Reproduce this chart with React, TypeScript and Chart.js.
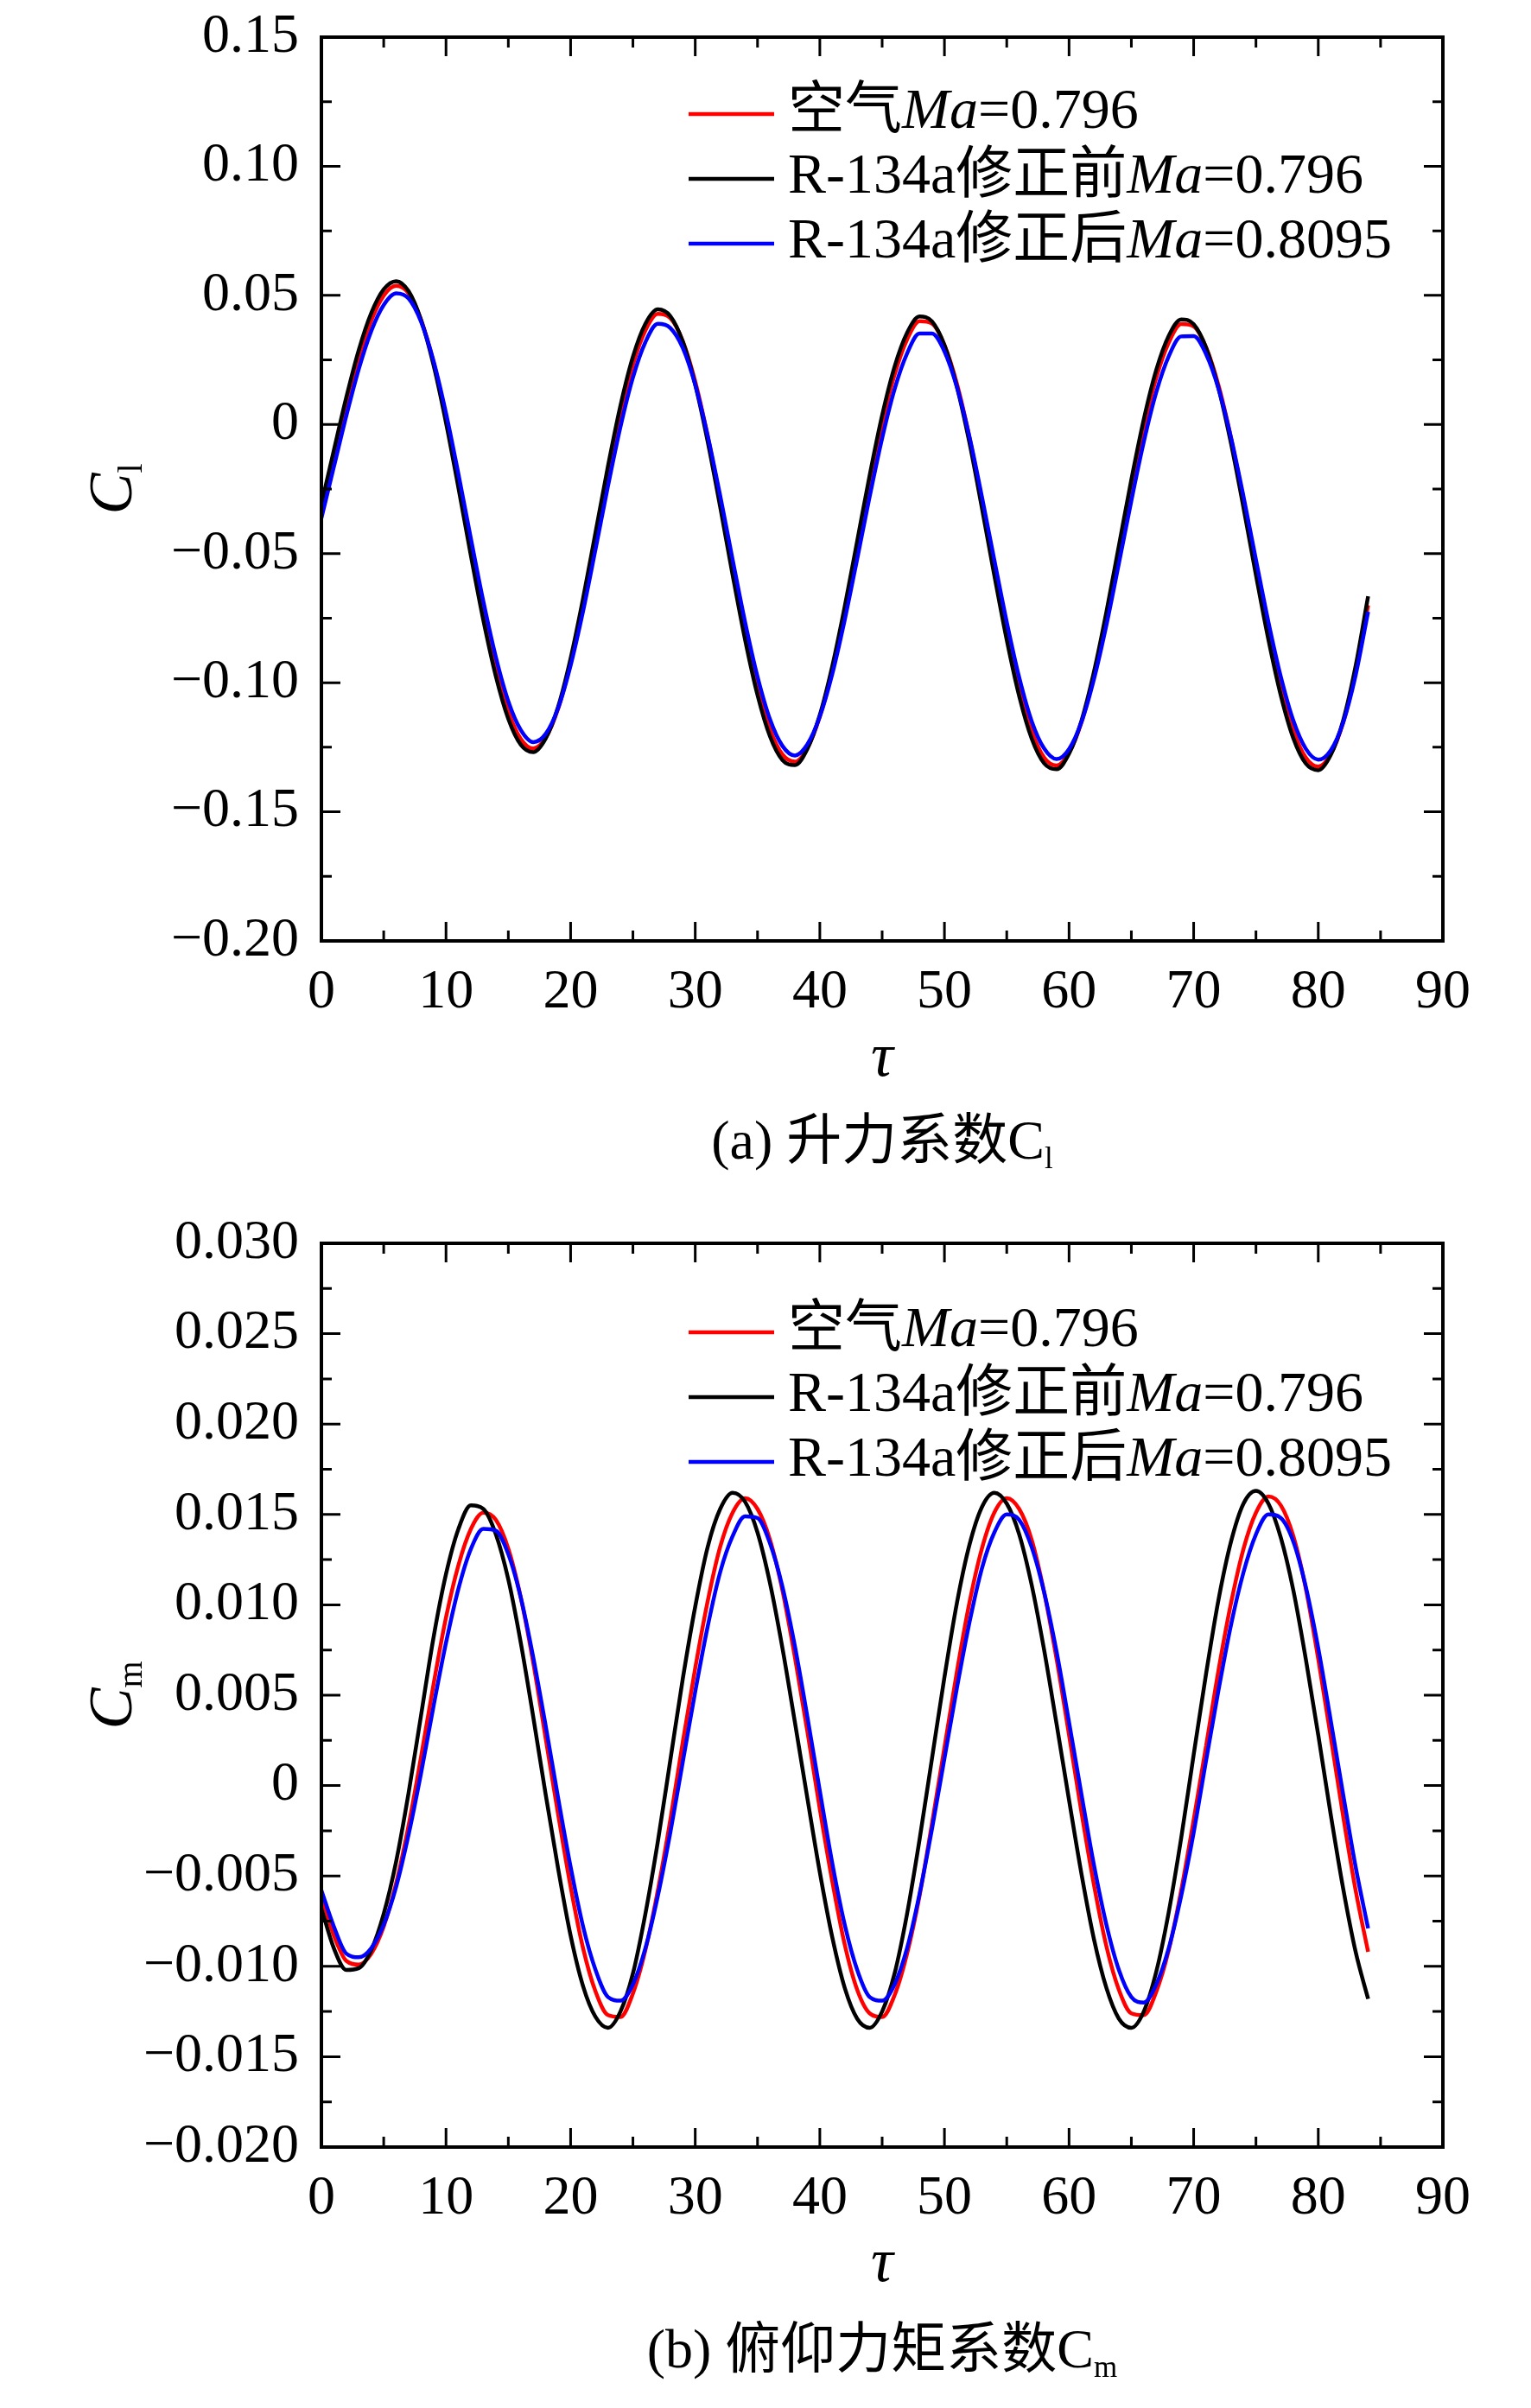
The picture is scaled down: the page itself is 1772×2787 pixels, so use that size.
import { useEffect, useRef } from "react"
import { Chart, registerables } from "chart.js"

Chart.register(...registerables)

const FONT = "'Liberation Serif', 'Times New Roman', 'Noto Sans CJK SC', serif"

// time axis (tau), shared by every series
const tau = [
  0, 1, 2, 3, 4, 5, 6, 7, 8, 9, 10, 11, 12, 13, 14, 15, 16, 17, 18, 19, 20,
  21, 22, 23, 24, 25, 26, 27, 28, 29, 30, 31, 32, 33, 34, 35, 36, 37, 38, 39, 40,
  41, 42, 43, 44, 45, 46, 47, 48, 49, 50, 51, 52, 53, 54, 55, 56, 57, 58, 59, 60,
  61, 62, 63, 64, 65, 66, 67, 68, 69, 70, 71, 72, 73, 74, 75, 76, 77, 78, 79, 80,
  81, 82, 83, 84,
]

// lift coefficient Cl
const clAir = [
  -0.0336, -0.0131, 0.0073, 0.0255, 0.0402, 0.0499, 0.0537, 0.0508, 0.0405, 0.0241, 0.0027,
  -0.0219, -0.0477, -0.0726, -0.0943, -0.1112, -0.1218, -0.1255, -0.1213, -0.11, -0.0922,
  -0.0698, -0.0449, -0.0195, 0.0039, 0.0231, 0.0364, 0.0428, 0.0412, 0.0323, 0.0166,
  -0.0045, -0.029, -0.0549, -0.0799, -0.1015, -0.118, -0.1278, -0.1306, -0.1253, -0.1131,
  -0.0952, -0.0729, -0.048, -0.023, 0.0002, 0.0193, 0.0329, 0.04, 0.0391, 0.0308,
  0.0158, -0.0048, -0.0293, -0.055, -0.08, -0.1018, -0.1186, -0.129, -0.1321, -0.1271,
  -0.1153, -0.0973, -0.0749, -0.05, -0.0247, -0.0014, 0.0181, 0.0317, 0.0389, 0.038,
  0.0298, 0.015, -0.0053, -0.0294, -0.055, -0.0799, -0.1017, -0.1185, -0.129, -0.1325,
  -0.1277, -0.1154, -0.0955, -0.07,
]
const clBefore = [
  -0.0309, -0.01, 0.0105, 0.0288, 0.0431, 0.0523, 0.0555, 0.0516, 0.0404, 0.023, 0.0007,
  -0.0246, -0.0509, -0.0759, -0.0975, -0.114, -0.124, -0.1269, -0.1216, -0.1093, -0.0906,
  -0.0674, -0.0418, -0.0161, 0.0073, 0.0262, 0.039, 0.0446, 0.042, 0.0321, 0.0154,
  -0.0066, -0.0318, -0.0582, -0.0833, -0.1048, -0.1208, -0.13, -0.1319, -0.1256, -0.1125,
  -0.0936, -0.0705, -0.0451, -0.0197, 0.0035, 0.0224, 0.0355, 0.0418, 0.0399, 0.0307,
  0.0146, -0.0069, -0.0321, -0.0583, -0.0834, -0.1052, -0.1216, -0.1312, -0.1335, -0.1275,
  -0.1147, -0.0958, -0.0726, -0.047, -0.0214, 0.002, 0.0211, 0.0343, 0.0407, 0.0388,
  0.0297, 0.0139, -0.0074, -0.0322, -0.0583, -0.0833, -0.105, -0.1215, -0.1313, -0.1339,
  -0.128, -0.1146, -0.0935, -0.0665,
]
const clAfter = [
  -0.0363, -0.0164, 0.0034, 0.0215, 0.0362, 0.0463, 0.0508, 0.0488, 0.0398, 0.0246, 0.0044,
  -0.0193, -0.0443, -0.0686, -0.0901, -0.1072, -0.1183, -0.123, -0.1198, -0.1098, -0.0933,
  -0.0723, -0.0483, -0.0238, -0.0009, 0.0182, 0.0319, 0.039, 0.0374, 0.0297, 0.0154,
  -0.0043, -0.0275, -0.0523, -0.0765, -0.0977, -0.1142, -0.1245, -0.1282, -0.1239, -0.1131,
  -0.0966, -0.0756, -0.052, -0.0279, -0.0053, 0.0137, 0.0275, 0.0352, 0.0352, 0.0283,
  0.0145, -0.0046, -0.0278, -0.0524, -0.0765, -0.098, -0.1149, -0.1255, -0.1296, -0.1257,
  -0.1152, -0.0986, -0.0776, -0.0538, -0.0295, -0.0067, 0.0125, 0.0264, 0.0341, 0.0342,
  0.0272, 0.0138, -0.0051, -0.0279, -0.0524, -0.0765, -0.0978, -0.1147, -0.1256, -0.1298,
  -0.1262, -0.1154, -0.0971, -0.0725,
]

// pitching moment coefficient Cm
const cmAir = [
  -0.0061, -0.0083, -0.0097, -0.0099, -0.0093, -0.0078, -0.0054, -0.0022, 0.0016, 0.0056, 0.0093,
  0.0122, 0.0142, 0.0151, 0.0147, 0.0131, 0.0104, 0.0068, 0.0026, -0.0016, -0.0056,
  -0.009, -0.0114, -0.0127, -0.0128, -0.0115, -0.0091, -0.0058, -0.0019, 0.0024, 0.0065,
  0.0102, 0.0132, 0.0151, 0.0159, 0.0153, 0.0136, 0.0108, 0.0071, 0.003, -0.0013,
  -0.0053, -0.0088, -0.0113, -0.0126, -0.0128, -0.0116, -0.0093, -0.0061, -0.0021, 0.0021,
  0.0063, 0.0101, 0.0131, 0.0151, 0.0159, 0.0153, 0.0136, 0.0107, 0.007, 0.0028,
  -0.0015, -0.0055, -0.0089, -0.0113, -0.0126, -0.0127, -0.0114, -0.0091, -0.0058, -0.0019,
  0.0022, 0.0064, 0.0101, 0.0131, 0.0151, 0.016, 0.0155, 0.0138, 0.0109, 0.007,
  0.0027, -0.0017, -0.0058, -0.0092,
]
const cmBefore = [
  -0.0068, -0.009, -0.0102, -0.0101, -0.0091, -0.0071, -0.0042, -0.0004, 0.0039, 0.0082, 0.0117,
  0.0142, 0.0155, 0.0153, 0.0139, 0.0114, 0.0079, 0.0038, -0.0005, -0.0046, -0.0083,
  -0.0111, -0.0128, -0.0134, -0.0125, -0.0104, -0.0071, -0.0031, 0.0014, 0.0059, 0.0099,
  0.0132, 0.0153, 0.0162, 0.0157, 0.014, 0.0112, 0.0076, 0.0035, -0.0007, -0.0048,
  -0.0084, -0.0112, -0.0129, -0.0134, -0.0125, -0.0104, -0.0071, -0.003, 0.0015, 0.006,
  0.0101, 0.0133, 0.0154, 0.0162, 0.0156, 0.0139, 0.0111, 0.0075, 0.0034, -0.0008,
  -0.0049, -0.0085, -0.0112, -0.0129, -0.0134, -0.0125, -0.0103, -0.007, -0.0029, 0.0017,
  0.0062, 0.0103, 0.0135, 0.0156, 0.0163, 0.0156, 0.0137, 0.0108, 0.007, 0.0028,
  -0.0016, -0.0057, -0.0092, -0.0118,
]
const cmAfter = [
  -0.0058, -0.0078, -0.0093, -0.0095, -0.009, -0.0077, -0.0056, -0.0027, 0.0007, 0.0044, 0.0079,
  0.0109, 0.0131, 0.0142, 0.0141, 0.0128, 0.0104, 0.0071, 0.0033, -0.0007, -0.0045,
  -0.0078, -0.0102, -0.0117, -0.0119, -0.011, -0.009, -0.0061, -0.0026, 0.0013, 0.0052,
  0.0088, 0.0118, 0.0138, 0.0149, 0.0148, 0.0134, 0.011, 0.0077, 0.0038, -0.0003,
  -0.0043, -0.0077, -0.0102, -0.0117, -0.0119, -0.011, -0.009, -0.006, -0.0024, 0.0015,
  0.0054, 0.009, 0.012, 0.014, 0.015, 0.0147, 0.0132, 0.0107, 0.0074, 0.0035,
  -0.0005, -0.0044, -0.0077, -0.0102, -0.0117, -0.012, -0.011, -0.009, -0.0061, -0.0026,
  0.0014, 0.0053, 0.0089, 0.0118, 0.0139, 0.015, 0.0148, 0.0135, 0.011, 0.0076,
  0.0036, -0.0005, -0.0045, -0.0079,
]

// tick labels
const xTicks = [0, 10, 20, 30, 40, 50, 60, 70, 80, 90]
const xMinorTicks = [5, 15, 25, 35, 45, 55, 65, 75, 85]
const clTicks = [-0.2, -0.15, -0.1, -0.05, 0, 0.05, 0.1, 0.15]
const clMinorTicks = [-0.175, -0.125, -0.075, -0.025, 0.025, 0.075, 0.125]
const cmTicks = [-0.02, -0.015, -0.01, -0.005, 0, 0.005, 0.01, 0.015, 0.02, 0.025, 0.03]
const cmMinorTicks = [-0.0175, -0.0125, -0.0075, -0.0025, 0.0025, 0.0075, 0.0125, 0.0175, 0.0225, 0.0275]

type Seg = { t: string; italic?: boolean; sub?: boolean }

const seriesNames: Seg[][] = [
  [{ t: "空气" }, { t: "Ma", italic: true }, { t: "=0.796" }],
  [{ t: "R-134a修正前" }, { t: "Ma", italic: true }, { t: "=0.796" }],
  [{ t: "R-134a修正后" }, { t: "Ma", italic: true }, { t: "=0.8095" }],
]
const seriesColors = ["#ff0000", "#000000", "#0000ff"]

const PLOT_LEFT = 372
const PLOT_RIGHT = 1670
const WIDTH = 1772

function drawRich(ctx: CanvasRenderingContext2D, segs: Seg[], x: number, y: number, size: number, center: boolean) {
  const fontOf = (s: Seg) => `${s.italic ? "italic " : ""}${s.sub ? Math.round(size * 0.55) : size}px ${FONT}`
  const widths = segs.map((s) => {
    ctx.font = fontOf(s)
    return ctx.measureText(s.t).width
  })
  const total = widths.reduce((a, b) => a + b, 0)
  let cx = center ? x - total / 2 : x
  segs.forEach((s, i) => {
    ctx.font = fontOf(s)
    ctx.fillText(s.t, cx, s.sub ? y + size * 0.17 : y)
    cx += widths[i]
  })
}

function fmt(v: number, digits: number) {
  if (Math.abs(v) < 1e-9) return "0"
  return (v < 0 ? "\u2212" : "") + Math.abs(v).toFixed(digits)
}

type PanelProps = {
  top: number
  height: number
  plotTop: number
  plotBottom: number
  series: number[][]
  yMin: number
  yMax: number
  yTicks: number[]
  yMinorTicks: number[]
  digits: number
  yTitle: Seg[]
  caption: Seg[]
  legendRows: number[]
  xTitleY: number
  captionY: number
}

function Panel(p: PanelProps) {
  const chartRef = useRef<HTMLCanvasElement>(null)
  const chartInstance = useRef<Chart | null>(null)

  useEffect(() => {
    if (!chartRef.current) return
    if (chartInstance.current) chartInstance.current.destroy()
    const ctx = chartRef.current.getContext("2d")
    if (!ctx) return

    // box with inward ticks on all four sides
    const framePlugin = {
      id: "frame",
      afterDatasetsDraw(chart: Chart) {
        const c = chart.ctx
        const a = chart.chartArea
        const xs = chart.scales.x
        const ys = chart.scales.y
        c.save()
        c.strokeStyle = "#000"
        c.lineWidth = 3
        c.beginPath()
        const xt = (list: number[], len: number) =>
          list.forEach((v) => {
            const px = xs.getPixelForValue(v)
            c.moveTo(px, a.bottom)
            c.lineTo(px, a.bottom - len)
            c.moveTo(px, a.top)
            c.lineTo(px, a.top + len)
          })
        const yt = (list: number[], len: number) =>
          list.forEach((v) => {
            const py = ys.getPixelForValue(v)
            c.moveTo(a.left, py)
            c.lineTo(a.left + len, py)
            c.moveTo(a.right, py)
            c.lineTo(a.right - len, py)
          })
        xt(xTicks, 22)
        xt(xMinorTicks, 12)
        yt(p.yTicks, 22)
        yt(p.yMinorTicks, 12)
        c.stroke()
        c.lineWidth = 4
        c.strokeRect(a.left, a.top, a.right - a.left, a.bottom - a.top)
        c.restore()
      },
    }

    // legend, axis titles and caption (mixed italic / subscript text)
    const textPlugin = {
      id: "richText",
      afterDraw(chart: Chart) {
        const c = chart.ctx
        const a = chart.chartArea
        c.save()
        c.fillStyle = "#000"
        c.textBaseline = "alphabetic"
        p.legendRows.forEach((ry, i) => {
          c.strokeStyle = seriesColors[i]
          c.lineWidth = 4.5
          c.beginPath()
          c.moveTo(797, ry)
          c.lineTo(896, ry)
          c.stroke()
          drawRich(c, seriesNames[i], 912, ry + 16, 66, false)
        })
        drawRich(c, [{ t: "τ", italic: true }], (a.left + a.right) / 2, p.xTitleY, 72, true)
        drawRich(c, p.caption, (a.left + a.right) / 2, p.captionY, 64, true)
        c.translate(152, (a.top + a.bottom) / 2)
        c.rotate(-Math.PI / 2)
        drawRich(c, p.yTitle, 0, 0, 72, true)
        c.restore()
      },
    }

    chartInstance.current = new Chart(ctx, {
      type: "line",
      data: {
        datasets: p.series.map((vals, i) => ({
          label: seriesNames[i].map((s) => s.t).join(""),
          data: tau.map((t, k) => ({ x: t, y: vals[k] })),
          borderColor: seriesColors[i],
          backgroundColor: seriesColors[i],
          borderWidth: 4.5,
          pointRadius: 0,
          cubicInterpolationMode: "monotone" as const,
          fill: false,
          order: 3 - i,
        })),
      },
      options: {
        animation: false,
        responsive: false,
        devicePixelRatio: 1,
        events: [],
        layout: { padding: { top: p.plotTop, right: WIDTH - PLOT_RIGHT, left: 0, bottom: 0 } },
        plugins: { legend: { display: false }, tooltip: { enabled: false } },
        scales: {
          x: {
            type: "linear",
            min: 0,
            max: 90,
            afterBuildTicks: (s: any) => {
              s.ticks = xTicks.map((v) => ({ value: v }))
            },
            afterFit: (s: any) => {
              s.height = p.height - p.plotBottom
              s.paddingLeft = 0
              s.paddingRight = 0
            },
            grid: { display: false, drawTicks: false },
            border: { display: false },
            ticks: {
              color: "#000",
              font: { family: FONT, size: 64 },
              padding: 22,
              maxRotation: 0,
              autoSkip: false,
            },
          },
          y: {
            type: "linear",
            min: p.yMin,
            max: p.yMax,
            afterBuildTicks: (s: any) => {
              s.ticks = p.yTicks.map((v) => ({ value: v }))
            },
            afterFit: (s: any) => {
              s.width = PLOT_LEFT
              s.paddingTop = 0
              s.paddingBottom = 0
            },
            grid: { display: false, drawTicks: false },
            border: { display: false },
            ticks: {
              color: "#000",
              font: { family: FONT, size: 64 },
              padding: 26,
              autoSkip: false,
              callback: (v: any) => fmt(Number(v), p.digits),
            },
          },
        },
      },
      plugins: [framePlugin, textPlugin],
    })

    return () => {
      if (chartInstance.current) {
        chartInstance.current.destroy()
        chartInstance.current = null
      }
    }
  }, [])

  return (
    <canvas
      ref={chartRef}
      width={WIDTH}
      height={p.height}
      style={{ position: "absolute", left: 0, top: p.top, width: WIDTH, height: p.height }}
    />
  )
}

export default function App() {
  return (
    <div style={{ position: "absolute", left: 0, top: 0, width: WIDTH, height: 2787, background: "#fff" }}>
      <Panel
        top={0}
        height={1393}
        plotTop={43}
        plotBottom={1089}
        series={[clAir, clBefore, clAfter]}
        yMin={-0.2}
        yMax={0.15}
        yTicks={clTicks}
        yMinorTicks={clMinorTicks}
        digits={2}
        yTitle={[{ t: "C", italic: true }, { t: "l", sub: true }]}
        caption={[{ t: "(a) 升力系数C" }, { t: "l", sub: true }]}
        legendRows={[132, 207, 282]}
        xTitleY={1245}
        captionY={1341}
      />
      <Panel
        top={1393}
        height={1394}
        plotTop={46}
        plotBottom={1092}
        series={[cmAir, cmBefore, cmAfter]}
        yMin={-0.02}
        yMax={0.03}
        yTicks={cmTicks}
        yMinorTicks={cmMinorTicks}
        digits={3}
        yTitle={[{ t: "C", italic: true }, { t: "m", sub: true }]}
        caption={[{ t: "(b) 俯仰力矩系数C" }, { t: "m", sub: true }]}
        legendRows={[149, 224, 299]}
        xTitleY={1247}
        captionY={1347}
      />
    </div>
  )
}
